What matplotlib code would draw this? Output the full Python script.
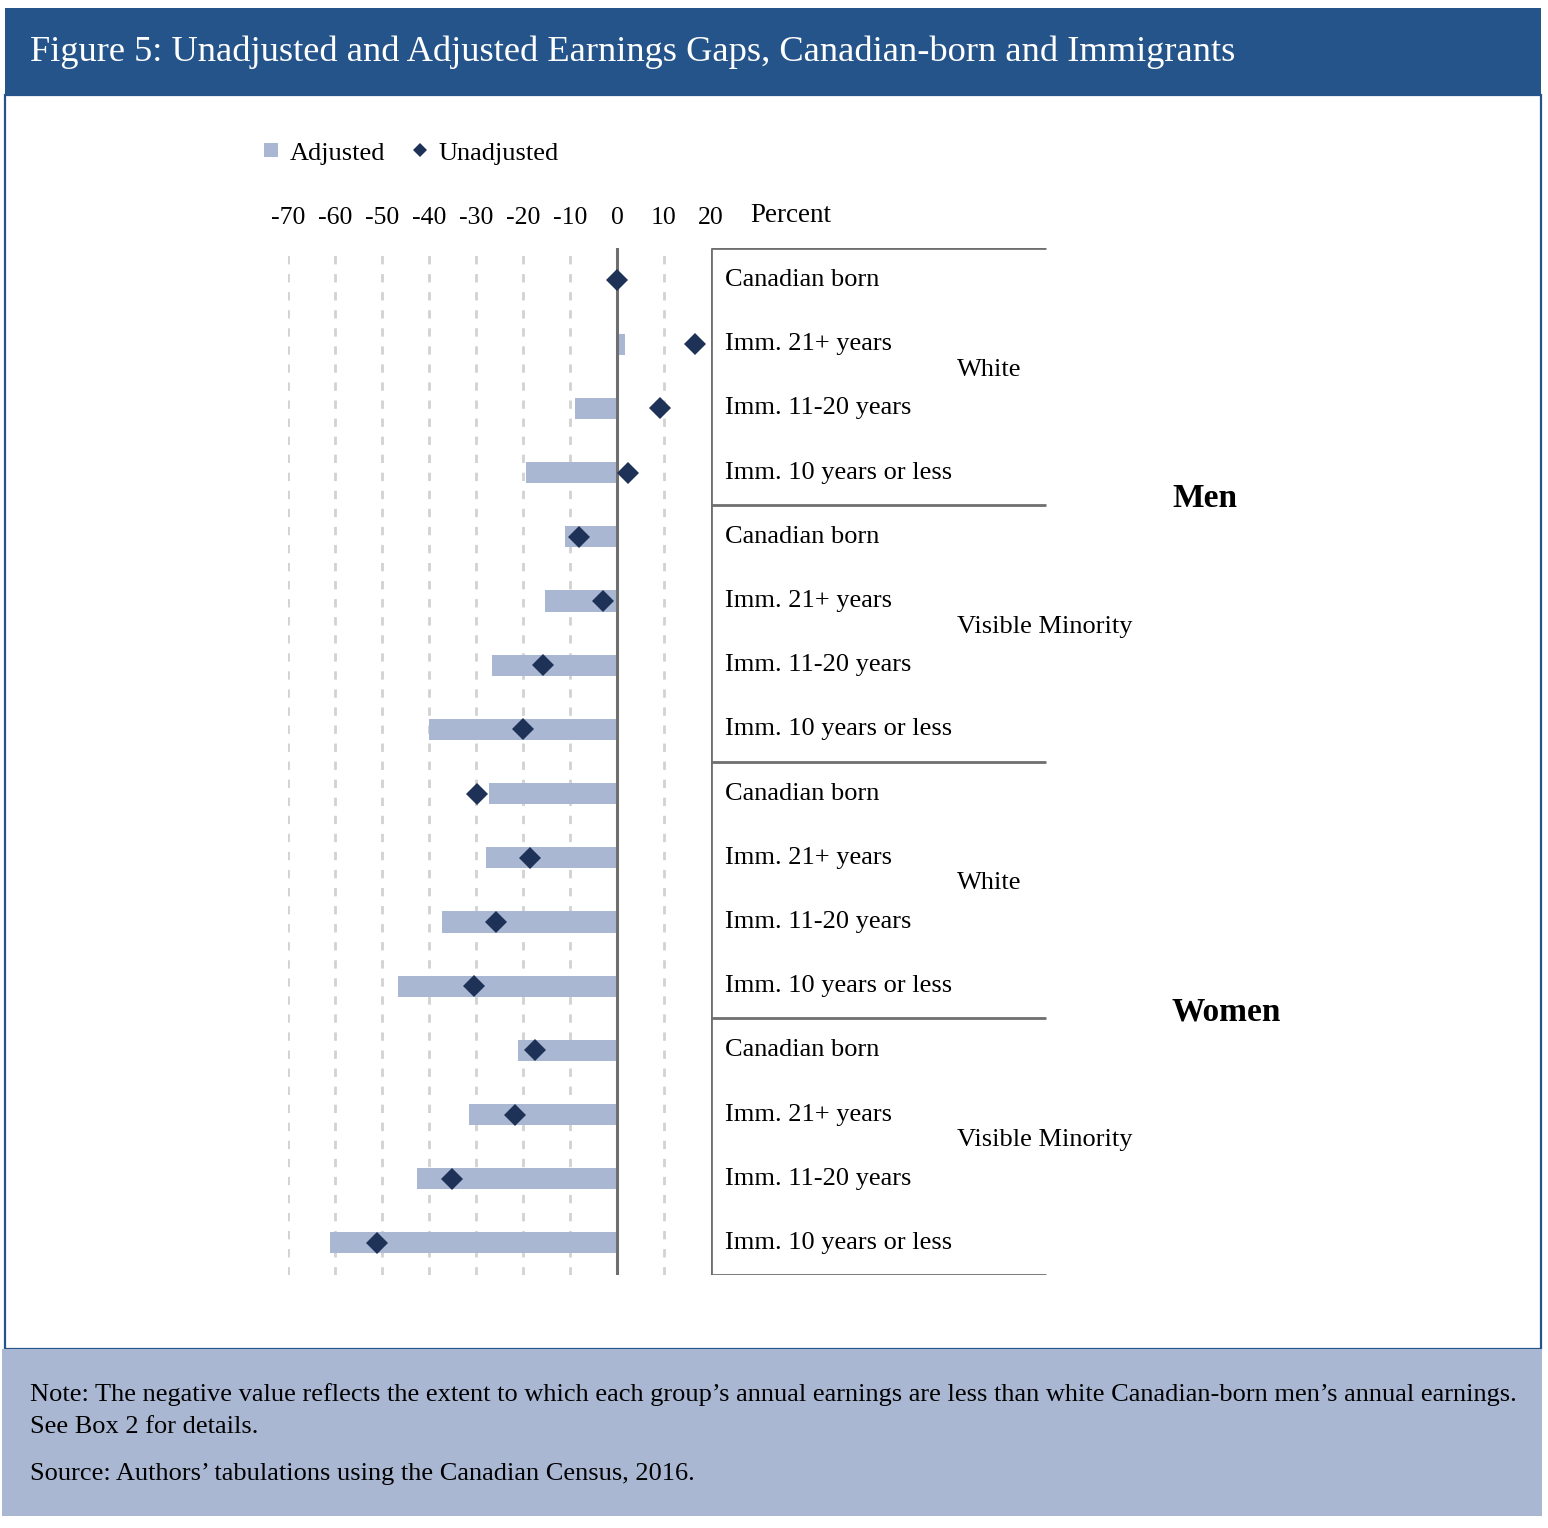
import matplotlib
matplotlib.use('Agg')
import matplotlib.pyplot as plt
from matplotlib.patches import Rectangle
from matplotlib.lines import Line2D

plt.rcParams['font.family'] = ['Liberation Serif', 'DejaVu Serif']

# ---------------- data ----------------
categories = ["Canadian born", "Imm. 21+ years", "Imm. 11-20 years", "Imm. 10 years or less"] * 4
groups = ["White", "Visible Minority", "White", "Visible Minority"]
genders = ["Men", "Women"]
adjusted = [0.0, 1.6, -9.0, -19.3,
            -11.1, -15.3, -26.7, -39.9,
            -27.2, -27.9, -37.2, -46.7,
            -21.1, -31.4, -42.5, -61.0]
unadjusted = [0.0, 16.5, 9.1, 2.3,
              -8.0, -3.0, -15.7, -20.1,
              -29.7, -18.6, -25.7, -30.4,
              -17.5, -21.8, -35.2, -51.1]
xticks = [-70, -60, -50, -40, -30, -20, -10, 0, 10, 20]
title = "Figure 5: Unadjusted and Adjusted Earnings Gaps, Canadian-born and Immigrants"
note1 = "Note: The negative value reflects the extent to which each group\u2019s annual earnings are less than white Canadian-born men\u2019s annual earnings."
note2 = "See Box 2 for details."
source = "Source: Authors\u2019 tabulations using the Canadian Census, 2016."

# ---------------- style ----------------
W, H = 1548, 1528
BAR = '#A9B7D3'
DIA = '#1E3258'
BLUE = '#24548A'
GRAY = '#6f6f70'

fig = plt.figure(figsize=(W / 100, H / 100), dpi=100)

def fx(px):
    return px / W

def fy(py):
    return 1 - py / H

def frect(x0, y0, x1, y1, **kw):
    r = Rectangle((fx(x0), fy(y1)), (x1 - x0) / W, (y1 - y0) / H,
                  transform=fig.transFigure, **kw)
    fig.patches.append(r)

# title bar, white frame, note box
frect(5, 8, 1541, 95, facecolor=BLUE, edgecolor='none')
frect(5, 95, 1541, 1349, facecolor='none', edgecolor=BLUE, linewidth=1.6)
frect(2, 1349, 1542, 1516, facecolor=BAR, edgecolor='none')

fig.text(fx(30), fy(52), title, color='white', fontsize=26.2, va='center', ha='left')

# ---------------- main axes ----------------
top_px, bot_px = 248, 1275
ax = fig.add_axes([fx(288), fy(bot_px), (711 - 288) / W, (bot_px - top_px) / H])
n = len(adjusted)
ypos = list(range(n))
ax.set_xlim(-70, 20)
ax.set_ylim(n - 0.5, -0.5)

for t in xticks[:-1]:
    ax.axvline(t, color='#d2d2d2', linewidth=2, linestyle=(0, (3, 3.5)), zorder=0)
ax.barh(ypos, adjusted, height=0.33, color=BAR, zorder=2)
ax.axvline(0, color=GRAY, linewidth=2.2, zorder=3)
ax.plot(unadjusted, ypos, linestyle='none', marker='D', markersize=11.5,
        color=DIA, markeredgewidth=0, zorder=4)

ax.xaxis.tick_top()
ax.set_xticks(xticks)
ax.set_xticklabels([str(t) for t in xticks])
ax.tick_params(axis='x', length=0, pad=14, labelsize=18.5)
ax.set_yticks([])
for s in ax.spines.values():
    s.set_visible(False)
ax.patch.set_alpha(0)

fig.text(fx(750), fy(216), "Percent", fontsize=19.5, ha='left', va='center')

# legend
handles = [Line2D([], [], linestyle='none', marker='s', markersize=10, color=BAR, markeredgewidth=0),
           Line2D([], [], linestyle='none', marker='D', markersize=7.5, color=DIA, markeredgewidth=0)]
fig.legend(handles, ["Adjusted", "Unadjusted"], loc='center left',
           bbox_to_anchor=(fx(237), fy(153)), ncol=2, frameon=False, fontsize=19,
           handlelength=0.8, handletextpad=0.3, columnspacing=0.9)

# ---------------- category bracket axes ----------------
ax2 = fig.add_axes([fx(711), fy(bot_px), (1400 - 711) / W, (bot_px - top_px) / H])
ax2.set_xlim(0, 1)
ax2.set_ylim(n - 0.5, -0.5)
ax2.axis('off')
xw = (1046 - 711) / (1400 - 711)
ax2.plot([0, 0], [-0.5, n - 0.5], color=GRAY, linewidth=2, solid_capstyle='butt')
for k in range(0, n + 1, 4):
    ax2.plot([0, xw], [k - 0.5, k - 0.5], color=GRAY, linewidth=2, solid_capstyle='butt')

cx = (725 - 711) / (1400 - 711)
gx = (957 - 711) / (1400 - 711)
sx = (1172 - 711) / (1400 - 711)
for i, c in enumerate(categories):
    ax2.text(cx, i, c, fontsize=19, ha='left', va='center')
for g, name in enumerate(groups):
    ax2.text(gx, 4 * g + 1.4, name, fontsize=19, ha='left', va='center')
for s, name in enumerate(genders):
    ax2.text(sx, 8 * s + 3.4, name, fontsize=24, fontweight='bold', ha='left', va='center')

# notes
fig.text(fx(30), fy(1395), note1, fontsize=19, ha='left', va='center')
fig.text(fx(30), fy(1427), note2, fontsize=19, ha='left', va='center')
fig.text(fx(30), fy(1474), source, fontsize=19, ha='left', va='center')

fig.savefig('out.png', dpi=100)
